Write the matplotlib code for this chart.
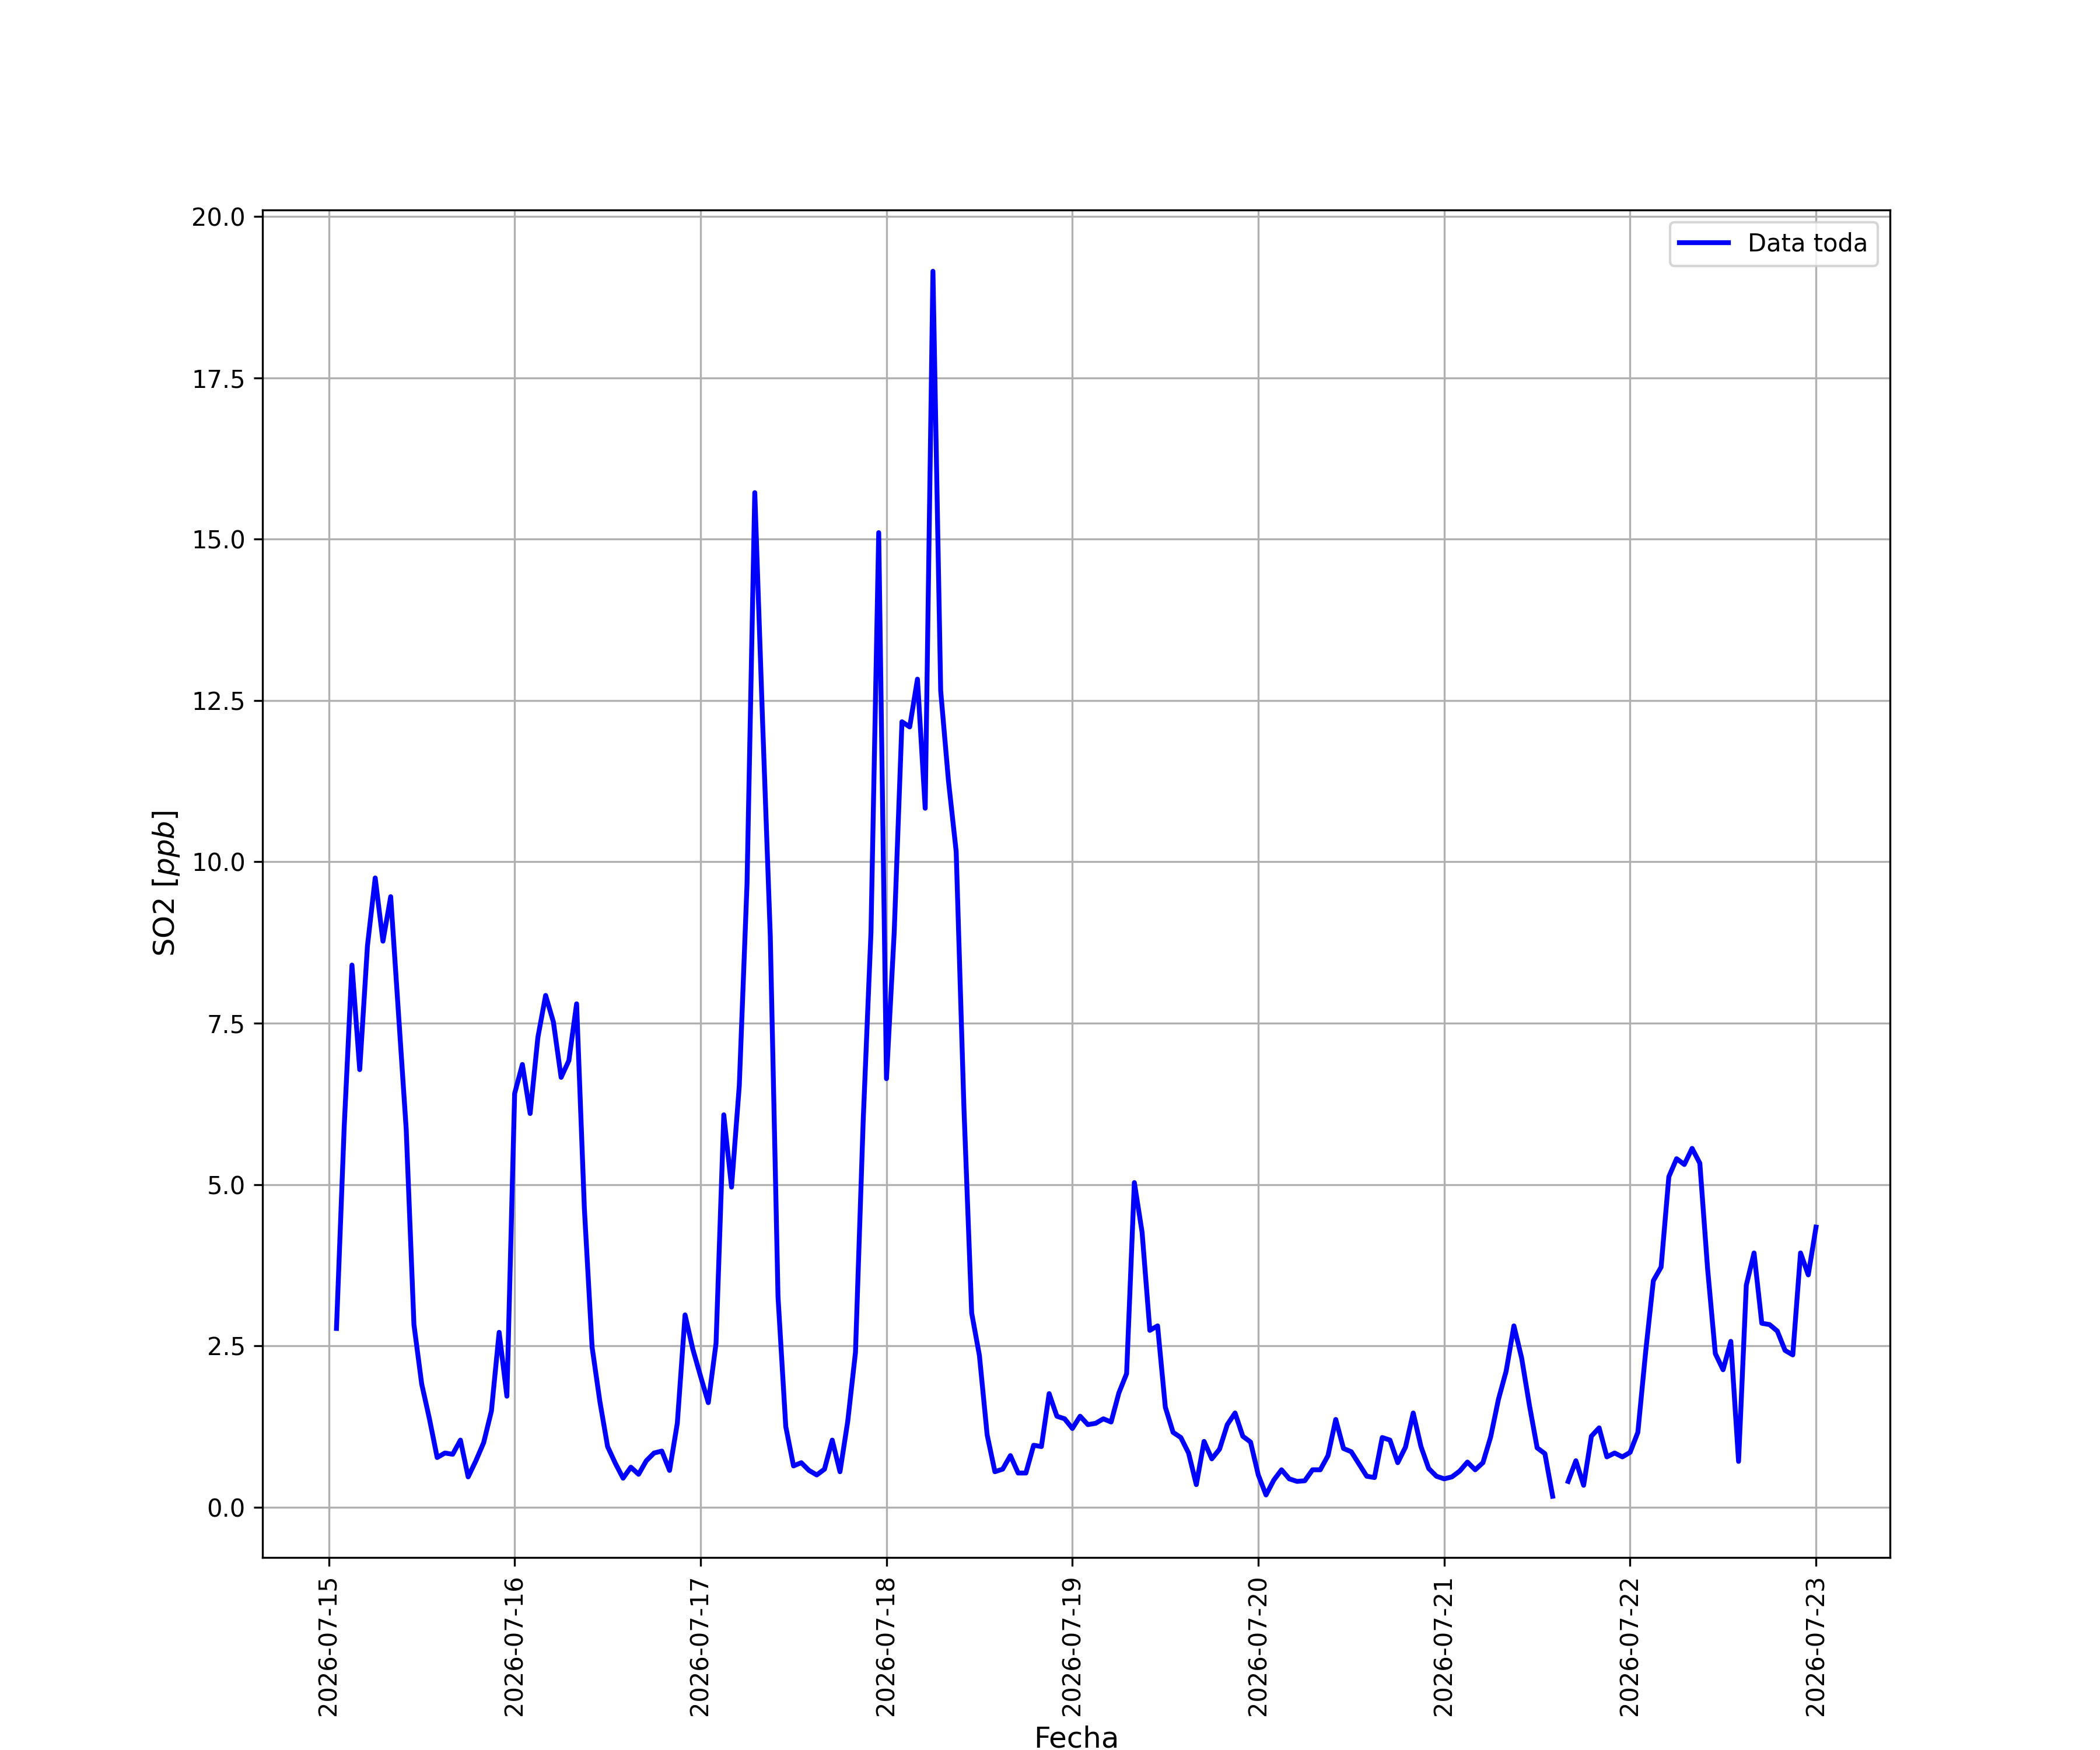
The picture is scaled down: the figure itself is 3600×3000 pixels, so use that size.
import numpy as np
import pandas as pd
import matplotlib
matplotlib.use("Agg")
import matplotlib.pyplot as plt
import matplotlib.dates as mdates

# hourly SO2 readings, 2026-07-15 01:00 .. 2026-07-23 00:00
dia15 = [2.77, 5.9, 8.40, 6.78, 8.70, 9.75, 8.77, 9.46, 7.66, 5.86, 2.83, 1.91,
         1.37, 0.77, 0.84, 0.82, 1.04, 0.47, 0.72, 1.00, 1.49, 2.71, 1.72]
dia16 = [6.41, 6.86, 6.10, 7.28, 7.93, 7.52, 6.66, 6.92, 7.80, 4.63, 2.48, 1.64,
         0.94, 0.68, 0.45, 0.62, 0.51, 0.72, 0.84, 0.87, 0.57, 1.30, 2.98, 2.45]
dia17 = [2.03, 1.62, 2.54, 6.08, 4.96, 6.53, 9.66, 15.72, 12.2, 8.86, 3.26, 1.25,
         0.64, 0.69, 0.57, 0.50, 0.59, 1.04, 0.55, 1.33, 2.40, 6.0, 8.91, 15.10]
dia18 = [6.64, 8.91, 12.17, 12.09, 12.83, 10.83, 19.15, 12.65, 11.26, 10.16, 6.19, 3.01,
         2.35, 1.12, 0.55, 0.59, 0.80, 0.53, 0.53, 0.96, 0.94, 1.76, 1.41, 1.37]
dia19 = [1.22, 1.41, 1.28, 1.30, 1.37, 1.32, 1.77, 2.07, 5.03, 4.26, 2.74, 2.81,
         1.55, 1.16, 1.08, 0.84, 0.35, 1.02, 0.75, 0.90, 1.28, 1.46, 1.10, 1.01]
dia20 = [0.50, 0.19, 0.42, 0.58, 0.44, 0.40, 0.41, 0.58, 0.58, 0.80, 1.36, 0.91,
         0.86, 0.67, 0.48, 0.46, 1.08, 1.04, 0.69, 0.93, 1.46, 0.94, 0.60, 0.48]
dia21 = [0.44, 0.47, 0.56, 0.70, 0.58, 0.69, 1.09, 1.67, 2.11, 2.81, 2.31, 1.58,
         0.92, 0.83, 0.17, np.nan, 0.40, 0.72, 0.34, 1.10, 1.23, 0.78, 0.84, 0.78]
dia22 = [0.85, 1.16, 2.4, 3.51, 3.72, 5.12, 5.40, 5.31, 5.56, 5.33, 3.7, 2.38,
         2.13, 2.57, 0.71, 3.44, 3.94, 2.85, 2.83, 2.73, 2.43, 2.36, 3.94, 3.60]
dia23 = [4.34]

so2 = dia15 + dia16 + dia17 + dia18 + dia19 + dia20 + dia21 + dia22 + dia23
fechas = pd.date_range("2026-07-15 01:00", periods=len(so2), freq="h")

fig, ax = plt.subplots(figsize=(12, 10), dpi=300)
ax.plot(fechas, so2, color="b", linewidth=2, label="Data toda")

ax.xaxis.set_major_locator(mdates.DayLocator())
ax.xaxis.set_major_formatter(mdates.DateFormatter("%Y-%m-%d"))
plt.setp(ax.get_xticklabels(), rotation=90)

ax.set_xlabel("Fecha", fontsize=12)
ax.set_ylabel("SO2 [$ppb$]", fontsize=12)
ax.grid()
ax.legend(loc="upper right")

fig.savefig("out.png")
